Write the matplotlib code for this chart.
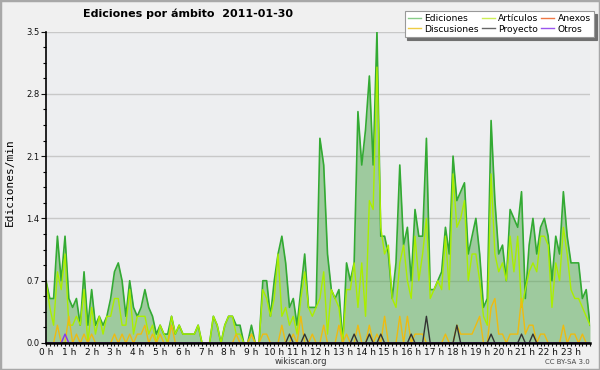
import matplotlib
matplotlib.use('Agg')
import matplotlib.pyplot as plt
from matplotlib.lines import Line2D
from matplotlib.patches import Rectangle
from matplotlib.ticker import MultipleLocator
import numpy as np

# ediciones/min por ambito, una muestra cada 10 minutos (144 muestras)
ediciones = [
    0.7, 0.5, 0.5, 1.2, 0.7, 1.2, 0.5, 0.4, 0.5, 0.2, 0.8, 0.2,
    0.6, 0.2, 0.3, 0.2, 0.3, 0.5, 0.8, 0.9, 0.7, 0.3, 0.7, 0.4,
    0.3, 0.4, 0.6, 0.4, 0.3, 0.1, 0.2, 0.1, 0.1, 0.3, 0.1, 0.2,
    0.1, 0.1, 0.1, 0.1, 0.2, 0.0, 0.0, 0.0, 0.3, 0.2, 0.0, 0.2,
    0.3, 0.3, 0.2, 0.2, 0.0, 0.0, 0.2, 0.0, 0.0, 0.7, 0.7, 0.3,
    0.7, 1.0, 1.2, 0.9, 0.4, 0.5, 0.2, 0.6, 1.0, 0.4, 0.4, 0.4,
    2.3, 2.0, 1.0, 0.6, 0.5, 0.6, 0.0, 0.9, 0.7, 0.9, 2.6, 2.0,
    2.4, 3.0, 2.0, 3.5, 1.2, 1.2, 1.0, 0.5, 0.9, 2.0, 1.1, 1.3,
    0.7, 1.5, 1.2, 1.2, 2.3, 0.6, 0.6, 0.7, 0.8, 1.3, 1.0, 2.1,
    1.6, 1.7, 1.8, 1.0, 1.2, 1.4, 1.0, 0.4, 0.5, 2.5, 1.6, 1.0,
    1.1, 0.7, 1.5, 1.4, 1.3, 1.7, 0.5, 1.1, 1.4, 1.0, 1.3, 1.4,
    1.2, 0.7, 1.2, 1.0, 1.7, 1.2, 0.9, 0.9, 0.9, 0.5, 0.6, 0.2,
]
articulos = [
    0.7, 0.4, 0.2, 0.8, 0.6, 1.0, 0.2, 0.2, 0.3, 0.2, 0.6, 0.0,
    0.4, 0.1, 0.3, 0.1, 0.3, 0.3, 0.5, 0.5, 0.2, 0.2, 0.6, 0.1,
    0.3, 0.3, 0.3, 0.1, 0.2, 0.0, 0.2, 0.1, 0.0, 0.3, 0.1, 0.2,
    0.1, 0.1, 0.1, 0.1, 0.2, 0.0, 0.0, 0.0, 0.3, 0.2, 0.0, 0.2,
    0.3, 0.3, 0.1, 0.1, 0.0, 0.0, 0.1, 0.0, 0.0, 0.6, 0.5, 0.3,
    0.5, 1.0, 0.3, 0.4, 0.2, 0.3, 0.1, 0.5, 0.8, 0.4, 0.3, 0.4,
    0.5, 0.8, 0.1, 0.6, 0.5, 0.4, 0.0, 0.6, 0.6, 0.9, 0.4, 0.9,
    0.3, 1.6, 1.5, 3.1, 1.3, 1.0, 1.1, 0.5, 0.4, 0.9, 1.1, 0.7,
    0.5, 1.2, 0.7, 1.0, 1.4, 0.5, 0.6, 0.7, 0.6, 1.2, 0.6, 1.9,
    1.3, 1.4, 1.6, 0.7, 1.0, 1.0, 0.7, 0.3, 0.2, 1.9, 1.0, 0.8,
    0.9, 0.7, 1.2, 0.8, 1.2, 0.4, 0.6, 0.8, 0.9, 0.8, 1.2, 1.2,
    1.1, 0.4, 0.9, 0.7, 1.3, 1.0, 0.6, 0.5, 0.5, 0.4, 0.3, 0.2,
]
discusiones = [
    0, 0, 0, 0.2, 0, 0, 0.3, 0, 0.1, 0, 0.1, 0,
    0.1, 0, 0, 0, 0, 0, 0.1, 0, 0.1, 0, 0.1, 0,
    0.1, 0.1, 0.2, 0, 0.1, 0, 0.1, 0, 0, 0.2, 0, 0,
    0, 0, 0, 0, 0, 0, 0, 0, 0, 0, 0, 0,
    0, 0, 0.1, 0, 0, 0, 0.1, 0, 0, 0.1, 0.1, 0,
    0, 0, 0.2, 0, 0, 0.1, 0, 0.3, 0, 0, 0.1, 0,
    0, 0.2, 0, 0, 0, 0.2, 0, 0.1, 0, 0, 0.2, 0,
    0, 0.2, 0, 0.1, 0, 0.3, 0, 0, 0, 0.3, 0, 0.3,
    0, 0.1, 0.1, 0.1, 0, 0, 0, 0, 0, 0.1, 0, 0,
    0.2, 0.1, 0.1, 0.1, 0.1, 0.2, 0.3, 0, 0, 0.4, 0.5, 0.1,
    0.1, 0, 0.1, 0.1, 0.1, 0.5, 0.1, 0.2, 0.2, 0, 0.1, 0.1,
    0, 0, 0, 0, 0.2, 0, 0.1, 0.1, 0, 0.1, 0, 0,
]
proyecto = [
    0, 0, 0, 0, 0, 0, 0, 0, 0, 0, 0, 0,
    0, 0, 0, 0, 0, 0, 0, 0, 0, 0, 0, 0,
    0, 0, 0, 0, 0, 0, 0, 0, 0, 0, 0, 0,
    0, 0, 0, 0, 0, 0, 0, 0, 0, 0, 0, 0,
    0, 0, 0, 0, 0, 0, 0, 0, 0, 0, 0, 0,
    0, 0, 0, 0, 0.1, 0, 0, 0, 0.1, 0, 0, 0,
    0, 0, 0, 0, 0, 0, 0, 0, 0, 0.1, 0, 0,
    0, 0.1, 0, 0, 0.1, 0, 0, 0, 0, 0, 0, 0,
    0.1, 0, 0, 0, 0.3, 0, 0, 0, 0, 0, 0, 0,
    0.2, 0, 0, 0, 0, 0, 0, 0, 0, 0.1, 0, 0,
    0, 0, 0, 0, 0, 0.1, 0, 0, 0.1, 0, 0, 0,
    0, 0, 0, 0, 0, 0, 0, 0, 0, 0, 0, 0,
]
otros = [0, 0, 0, 0, 0, 0.1] + [0] * 138
anexos = [0] * 144

horas = ['%d h' % h for h in range(24)]
yticks = [0.0, 0.7, 1.4, 2.1, 2.8, 3.5]

t = np.arange(len(ediciones)) / 6.0

fig = plt.figure(figsize=(6, 3.7), dpi=100, facecolor='#f0f0f0')
fig.patches.append(Rectangle((0, 0), 1, 1, transform=fig.transFigure, fill=False,
                             edgecolor='#a8a8a8', linewidth=2.5))
ax = fig.add_axes([46/600, 1-343/370, 544/600, 311.5/370])
ax.set_facecolor('#edeef0')

ax.fill_between(t, ediciones, color='#51a84e', alpha=0.5, lw=0, zorder=2)
ax.plot(t, ediciones, color='#33aa33', lw=1.2, zorder=3)
ax.plot(t, articulos, color='#aaee00', lw=1, zorder=4)
ax.plot(t, anexos, color='#ee6633', lw=1, zorder=4)
ax.plot(t, discusiones, color='#eebb11', lw=1, zorder=5)
ax.plot(t, proyecto, color='#333333', lw=1, zorder=6)
ax.plot(t, otros, color='#8833ee', lw=1, zorder=7)

ax.set_xlim(0, t[-1])
ax.set_ylim(0, 3.5)
ax.set_xticks(range(24))
ax.set_xticklabels(horas)
ax.xaxis.set_minor_locator(MultipleLocator(1/6))
ax.set_yticks(yticks)
ax.set_yticklabels(['%.1f' % v for v in yticks])
ax.yaxis.set_minor_locator(MultipleLocator(0.175))
ax.tick_params(axis='x', which='both', length=2.5, width=0.8, labelsize=6.5, pad=1, colors='#111111')
ax.tick_params(axis='y', which='major', length=3.6, width=0.8, labelsize=6, pad=1, colors='#111111')
ax.tick_params(axis='y', which='minor', length=2.2, width=0.8)
ax.yaxis.grid(True, color='#c8c8c8', lw=1)
ax.set_axisbelow(True)

for s in ['top', 'right']:
    ax.spines[s].set_visible(False)
ax.spines['bottom'].set_linewidth(1.8)
ax.spines['left'].set_linewidth(1.2)
ax.spines['bottom'].set_zorder(10)
ax.spines['left'].set_zorder(10)

# leyenda
nombres = ['Ediciones', 'Discusiones', 'Artículos', 'Proyecto', 'Anexos', 'Otros']
colores = ['#88cc88', '#eecc44', '#ccee55', '#666666', '#ee7744', '#9955ee']
handles = [Line2D([], [], color=c, lw=1) for c in colores]
leg = fig.legend(handles, nombres, ncol=3, loc='upper right',
                 bbox_to_anchor=(594/600, 1-11/370), frameon=True, fancybox=False,
                 shadow={'color': '#707070', 'alpha': 1}, fontsize=6.6,
                 handlelength=1.4, handletextpad=0.4, columnspacing=0.3,
                 labelspacing=0.15, borderpad=0.35, borderaxespad=0)
leg.get_frame().set_edgecolor('#999999')
leg.get_frame().set_linewidth(0.8)

fig.text(188/600, 1-14/370, 'Ediciones por ámbito  2011-01-30', ha='center', va='center',
         fontsize=8, fontweight='bold')
fig.text(9.5/600, 0.508, 'Ediciones/min', rotation=90, family='DejaVu Sans Mono',
         fontsize=8, ha='center', va='center')
fig.text(301/600, 1-361.5/370, 'wikiscan.org', fontsize=6, ha='center', va='center', color='#333333')
fig.text(590/600, 1-362.5/370, 'CC BY-SA 3.0', fontsize=5, ha='right', va='center', color='#444444')

fig.savefig('out.png', dpi=100, facecolor=fig.get_facecolor())
